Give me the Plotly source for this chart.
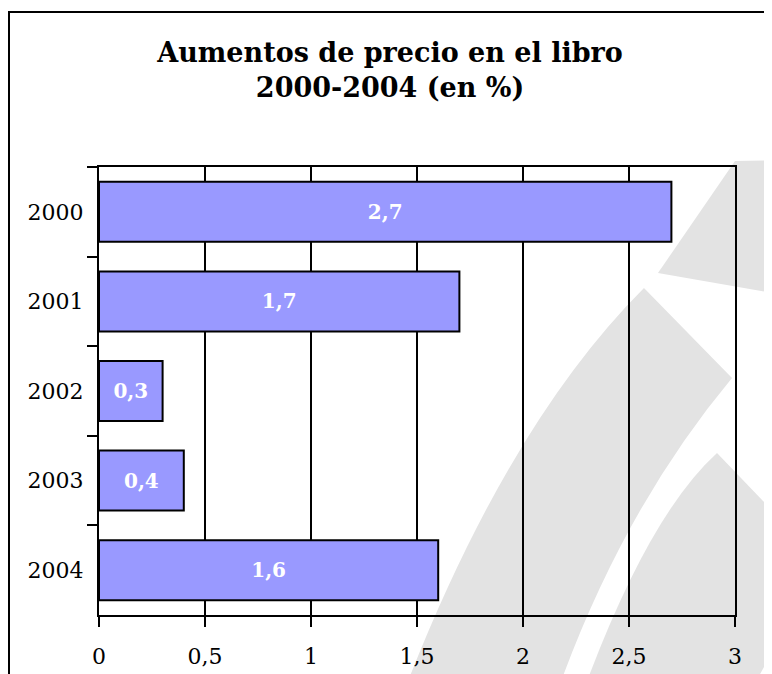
import plotly.graph_objects as go

# data
years = ["2000", "2001", "2002", "2003", "2004"]
increase = [2.7, 1.7, 0.3, 0.4, 1.6]

title = "<b>Aumentos de precio en el libro<br>2000-2004 (en %)</b>"

# the page body adds an 8px margin, so the figure is drawn 8px smaller
OFF = 8
W, H = 772 - OFF, 674 - OFF
ML, MR, MT, MB = 99 - OFF, 37, 167 - OFF, 59
PW, PH = W - ML - MR, H - MT - MB


def px(x, y):
    # screen pixel position -> paper coordinates (used for decoration only)
    return f"{(x - OFF - ML) / PW:.4f},{(H - MB - (y - OFF)) / PH:.4f}"


def path(cmds):
    out = []
    for c in cmds:
        if isinstance(c, str):
            out.append(c)
        else:
            out.append(px(*c))
    return " ".join(out)


# light grey watermark in the background
wm_grey = "#e3e3e3"
watermark = [
    path(["M", (735, 161), "L", (658, 273), "L", (790, 296), "L", (790, 160), "Z"]),
    path(["M", (644, 288), "L", (732, 378), "Q", (627, 504), (563, 676),
          "L", (410, 676), "Q", (511, 421), (644, 288), "Z"]),
    path(["M", (717, 453), "L", (790, 529), "L", (790, 621), "L", (759, 676),
          "L", (589, 676), "Q", (651, 513), (717, 453), "Z"]),
]

shapes = [dict(type="path", path=p, xref="paper", yref="paper",
               fillcolor=wm_grey, line=dict(width=0), layer="below")
          for p in watermark]

# outer frame
shapes.append(dict(type="rect", xref="paper", yref="paper",
                   x0=(9 - OFF - ML) / PW, y0=(H - MB - (12 - OFF)) / PH,
                   x1=(800 - OFF - ML) / PW, y1=(H - MB - 700) / PH,
                   line=dict(color="black", width=2), fillcolor="rgba(0,0,0,0)",
                   layer="below"))

fig = go.Figure(go.Bar(
    x=increase, y=years, orientation="h",
    marker=dict(color="#9999ff", line=dict(color="black", width=2)),
    texttemplate="%{x:.1f}", textposition="inside", insidetextanchor="middle",
    textfont=dict(family="DejaVu Serif", size=20, color="white", weight="bold"),
    hoverinfo="skip",
))

fig.update_layout(
    width=W, height=H,
    margin=dict(l=ML, r=MR, t=MT, b=MB, pad=0),
    paper_bgcolor="white", plot_bgcolor="rgba(0,0,0,0)",
    separators=",.",
    bargap=0.33,
    showlegend=False,
    font=dict(family="DejaVu Serif", size=22, color="black"),
    title=dict(text=title, x=0.5, xanchor="center", y=0.919, yanchor="top",
               font=dict(family="DejaVu Serif", size=27, color="black")),
    shapes=shapes,
    uniformtext=dict(mode="show", minsize=12),
)

fig.update_xaxes(range=[0, 3], dtick=0.5, showgrid=True, gridcolor="black", gridwidth=2,
                 showline=True, linecolor="black", linewidth=2, mirror=True,
                 ticks="outside", ticklen=10, tickwidth=2, tickcolor="black",
                 ticklabelstandoff=11, automargin=False, zeroline=False, fixedrange=True)
fig.update_yaxes(autorange="reversed", type="category", tickson="boundaries",
                 showgrid=False, showline=True, linecolor="black", linewidth=2, mirror=True,
                 ticks="outside", ticklen=10, tickwidth=2, tickcolor="black",
                 ticklabelstandoff=9, automargin=False, fixedrange=True)

fig.write_html("out.html")
